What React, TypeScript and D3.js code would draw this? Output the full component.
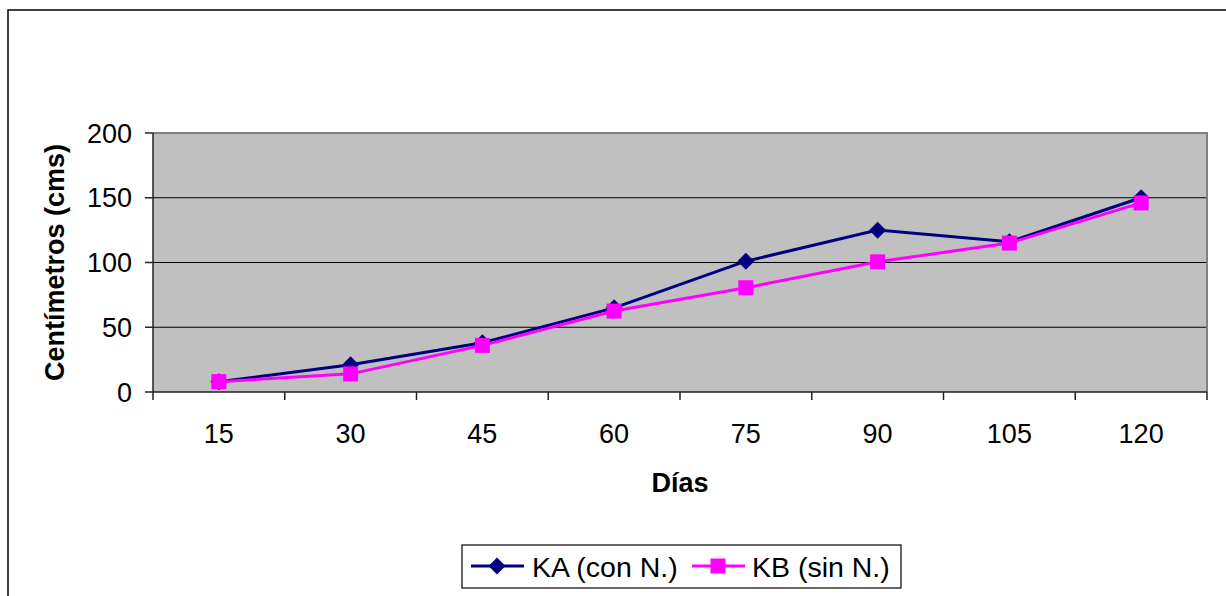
import React from 'react';
import * as d3 from 'd3';

// chart data
const dias = ['15', '30', '45', '60', '75', '90', '105', '120'];
const kaConN = [8, 21, 38, 65, 101, 125, 116, 150];
const kbSinN = [8, 14, 36, 62.5, 80.5, 100.5, 115, 146];
const yTicks = [0, 50, 100, 150, 200];

const W = 1226;
const H = 596;
const left = 153;
const right = 1207;
const top = 133;
const bottom = 392;
const font = '"Liberation Sans", Arial, sans-serif';

const App = () => {
  const x = d3.scaleBand<string>().domain(dias).range([left, right]).padding(0);
  const y = d3.scaleLinear().domain([0, 200]).range([bottom, top]);
  const cx = (d: string) => (x(d) as number) + x.bandwidth() / 2;

  const line = d3.line<[string, number]>()
    .x((d) => cx(d[0]))
    .y((d) => y(d[1]));

  const ka = dias.map((d, i) => [d, kaConN[i]] as [string, number]);
  const kb = dias.map((d, i) => [d, kbSinN[i]] as [string, number]);

  const diamond = (px: number, py: number, r: number) =>
    `M${px},${py - r}L${px + r},${py}L${px},${py + r}L${px - r},${py}Z`;

  // category boundaries for the x tick marks
  const xTickPos = dias.map((d) => x(d) as number).concat([right]);

  return (
    <svg width={W} height={H} style={{ position: 'absolute', left: 0, top: 0, background: '#fff' }}
      fontFamily={font}>
      {/* chart border */}
      <rect x={8} y={10} width={W} height={H} fill="none" stroke="#000" strokeWidth={1.5} />

      {/* plot area */}
      <rect x={left} y={top} width={right - left} height={bottom - top} fill="#C0C0C0" />
      {yTicks.filter((t) => t > 0).map((t) => (
        <line key={t} x1={left} x2={right} y1={y(t)} y2={y(t)} stroke="#000" strokeWidth={1} />
      ))}
      <path d={`M${left},${top}H${right}V${bottom}`} fill="none" stroke="#808080" strokeWidth={2} />

      {/* y axis */}
      <line x1={left} x2={left} y1={top} y2={bottom} stroke="#222" strokeWidth={1.5} />
      {yTicks.map((t) => (
        <g key={t}>
          <line x1={left - 8} x2={left} y1={y(t)} y2={y(t)} stroke="#222" strokeWidth={1.5} />
          <text x={132} y={y(t)} dy="0.36em" textAnchor="end" fontSize={27} fill="#000">{t}</text>
        </g>
      ))}

      {/* x axis */}
      <line x1={left} x2={right} y1={bottom} y2={bottom} stroke="#222" strokeWidth={1.5} />
      {xTickPos.map((p, i) => (
        <line key={i} x1={p} x2={p} y1={bottom} y2={bottom + 8} stroke="#222" strokeWidth={1.5} />
      ))}
      {dias.map((d) => (
        <text key={d} x={cx(d)} y={443} textAnchor="middle" fontSize={27} fill="#000">{d}</text>
      ))}

      {/* axis titles */}
      <text x={(left + right) / 2} y={492} textAnchor="middle" fontSize={27} fontWeight="bold">Días</text>
      <text transform={`translate(64,${(top + bottom) / 2}) rotate(-90)`} textAnchor="middle"
        fontSize={27} fontWeight="bold">Centímetros (cms)</text>

      {/* series */}
      <path d={line(ka) as string} fill="none" stroke="#000080" strokeWidth={3} />
      {ka.map((d) => (
        <path key={d[0]} d={diamond(cx(d[0]), y(d[1]), 8.5)} fill="#000080" />
      ))}
      <path d={line(kb) as string} fill="none" stroke="#FF00FF" strokeWidth={3} />
      {kb.map((d) => (
        <rect key={d[0]} x={cx(d[0]) - 7.5} y={y(d[1]) - 7.5} width={15} height={15} fill="#FF00FF" />
      ))}

      {/* legend */}
      <rect x={462} y={545} width={439} height={43} fill="#fff" stroke="#000" strokeWidth={1.2} />
      <line x1={471} x2={524} y1={566} y2={566} stroke="#000080" strokeWidth={3} />
      <path d={diamond(497, 566, 8.5)} fill="#000080" />
      <text x={532} y={577} fontSize={28.5}>KA (con N.)</text>
      <line x1={692} x2={745} y1={566} y2={566} stroke="#FF00FF" strokeWidth={3} />
      <rect x={710.5} y={558.5} width={15} height={15} fill="#FF00FF" />
      <text x={752} y={577} fontSize={28.5}>KB (sin N.)</text>
    </svg>
  );
};

export default App;
